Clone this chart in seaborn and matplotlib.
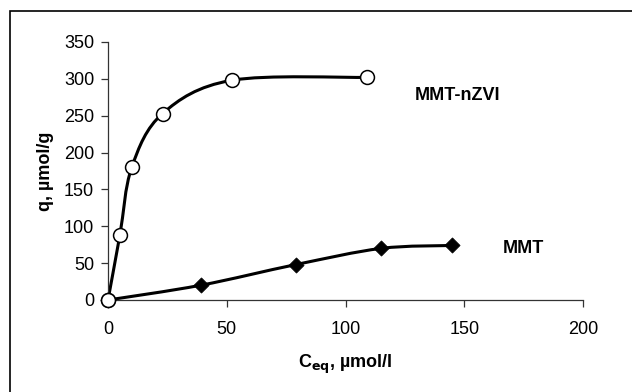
import numpy as np
import pandas as pd
import matplotlib
matplotlib.use("Agg")
import matplotlib.pyplot as plt
from matplotlib.path import Path
from matplotlib.patches import PathPatch, Rectangle
import seaborn as sns

# data
nzvi_x = [0, 5, 10, 23, 52, 109]
nzvi_y = [0, 88, 180, 253, 298, 302]
mmt_x = [0, 39, 79, 115, 145]
mmt_y = [0, 20, 48, 70, 74]
series_names = ["MMT-nZVI", "MMT"]
x_ticks = [0, 50, 100, 150, 200]
y_ticks = [0, 50, 100, 150, 200, 250, 300, 350]

sns.set_theme(style="ticks")
plt.rcParams['font.family'] = ['Liberation Sans', 'DejaVu Sans']
plt.rcParams['text.color'] = 'black'

FS = 13

fig = plt.figure(figsize=(6.32, 3.92), dpi=100)
ax = fig.add_axes([108/632, 1 - 300/392, (583-108)/632, (300-42)/392])

def smooth_path(xs, ys, k=1/6):
    pts = np.column_stack([xs, ys]).astype(float)
    n = len(pts)
    verts = [pts[0]]
    codes = [Path.MOVETO]
    for i in range(n - 1):
        p0 = pts[i - 1] if i > 0 else pts[i]
        p1 = pts[i]
        p2 = pts[i + 1]
        p3 = pts[i + 2] if i + 2 < n else pts[i + 1]
        c1 = p1 + (p2 - p0) * k
        c2 = p2 - (p3 - p1) * k
        verts += [c1, c2, p2]
        codes += [Path.CURVE4] * 3
    return Path(verts, codes)

for xs, ys in [(nzvi_x, nzvi_y), (mmt_x, mmt_y)]:
    ax.add_patch(PathPatch(smooth_path(xs, ys), facecolor="none",
                           edgecolor="black", lw=2.2, zorder=2, clip_on=False))

df1 = pd.DataFrame({"x": nzvi_x, "y": nzvi_y})
df2 = pd.DataFrame({"x": mmt_x, "y": mmt_y})
sns.scatterplot(data=df1, x="x", y="y", ax=ax, marker="o", s=100,
                facecolor="white", edgecolor="black", linewidth=1.1, zorder=3, clip_on=False)
sns.scatterplot(data=df2, x="x", y="y", ax=ax, marker="D", s=60,
                color="black", edgecolor="black", linewidth=0.5, zorder=3, clip_on=False)
ax.scatter([nzvi_x[0]], [nzvi_y[0]], marker="o", s=100, facecolor="white",
           edgecolor="black", linewidth=1.1, zorder=4, clip_on=False)

ax.set_xlim(0, 200)
ax.set_ylim(0, 350)
ax.set_xticks(x_ticks)
ax.set_yticks(y_ticks)
ax.tick_params(direction="out", length=5, width=0.9, color="#333333",
               labelsize=FS, labelcolor="black")
ax.tick_params(axis="y", pad=5)
ax.tick_params(axis="x", pad=10)
for s in ["top", "right"]:
    ax.spines[s].set_visible(False)
for s in ["left", "bottom"]:
    ax.spines[s].set_color("#333333")
    ax.spines[s].set_linewidth(0.9)

ax.set_xlabel(r"C$_{\mathbf{eq}}$, µmol/l", fontsize=FS, fontweight="bold",
              labelpad=11, color="black")
ax.set_ylabel("q, µmol/g", fontsize=FS, fontweight="bold", labelpad=7, color="black")

ax.text(129, 278, series_names[0], fontsize=FS, fontweight="bold", va="center", ha="left")
ax.text(166, 70, series_names[1], fontsize=FS, fontweight="bold", va="center", ha="left")

fig.patches.append(Rectangle((10/632, -0.1), 1.2, 1 - 11/392 + 0.1, transform=fig.transFigure,
                             fill=False, edgecolor="black", linewidth=1.2, zorder=0))

fig.savefig("out.png", dpi=100)
